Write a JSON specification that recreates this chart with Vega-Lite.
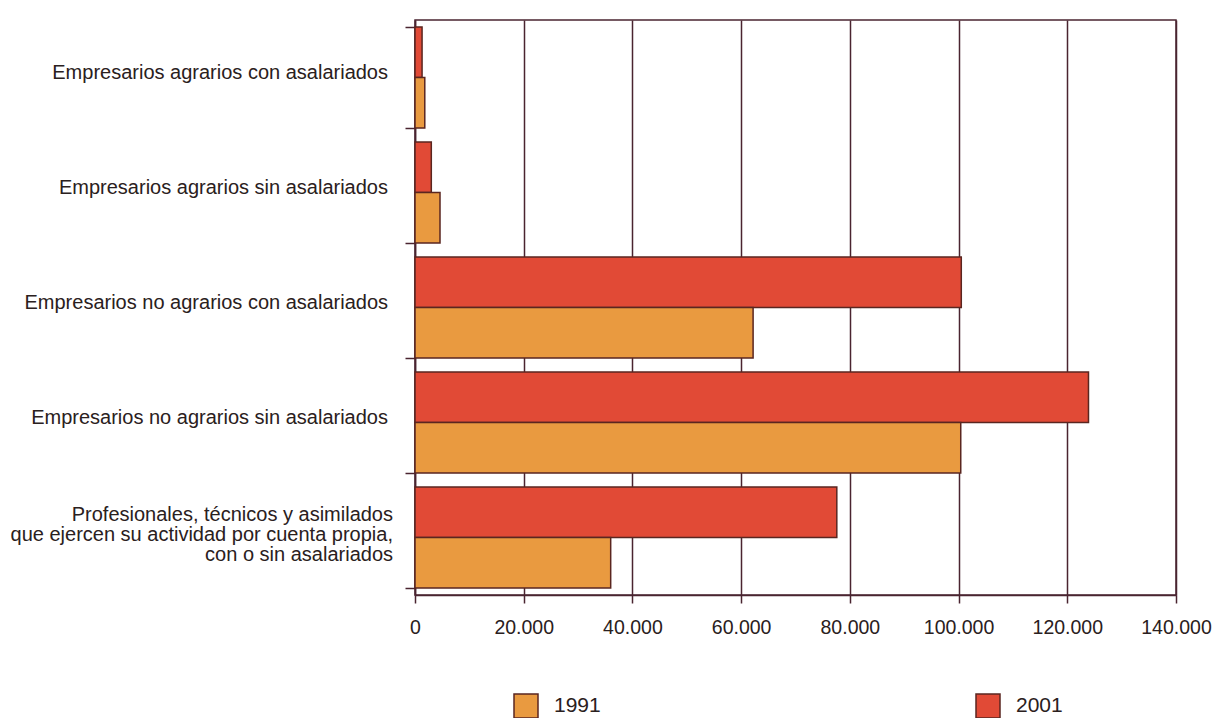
{
  "$schema": "https://vega.github.io/schema/vega-lite/v6.json",
  "width": 761,
  "height": 575,
  "autosize": {"type": "none"},
  "padding": {"left": 415, "top": 20, "right": 38, "bottom": 123},
  "background": "#ffffff",
  "data": {
    "values": [
      {"categoria": "Empresarios agrarios con asalariados", "anio": "2001", "valor": 1300},
      {"categoria": "Empresarios agrarios con asalariados", "anio": "1991", "valor": 1800},
      {"categoria": "Empresarios agrarios sin asalariados", "anio": "2001", "valor": 3000},
      {"categoria": "Empresarios agrarios sin asalariados", "anio": "1991", "valor": 4600},
      {"categoria": "Empresarios no agrarios con asalariados", "anio": "2001", "valor": 100500},
      {"categoria": "Empresarios no agrarios con asalariados", "anio": "1991", "valor": 62200},
      {"categoria": "Empresarios no agrarios sin asalariados", "anio": "2001", "valor": 123900},
      {"categoria": "Empresarios no agrarios sin asalariados", "anio": "1991", "valor": 100400},
      {"categoria": "Profesionales, técnicos y asimilados|que ejercen su actividad por cuenta propia,|con o sin asalariados", "anio": "2001", "valor": 77600},
      {"categoria": "Profesionales, técnicos y asimilados|que ejercen su actividad por cuenta propia,|con o sin asalariados", "anio": "1991", "valor": 36000}
    ]
  },
  "layer": [
    {
      "mark": {"type": "bar", "stroke": "#5a2620", "strokeWidth": 1.5},
      "encoding": {
        "y": {
          "field": "categoria",
          "type": "nominal",
          "sort": null,
          "scale": {"paddingInner": 0.12, "paddingOuter": 0.06},
          "axis": {
            "title": null,
            "labels": false,
            "tickBand": "extent",
            "tickSize": 10,
            "tickColor": "#4a2430",
            "tickWidth": 1.5,
            "domainColor": "#4a2430",
            "domainWidth": 1.5
          }
        },
        "yOffset": {
          "field": "anio",
          "type": "nominal",
          "sort": ["2001", "1991"],
          "scale": {"paddingInner": 0, "paddingOuter": 0}
        },
        "x": {
          "field": "valor",
          "type": "quantitative",
          "scale": {"domain": [0, 140000], "nice": false},
          "axis": {
            "title": null,
            "values": [0, 20000, 40000, 60000, 80000, 100000, 120000, 140000],
            "labelExpr": "replace(format(datum.value, ','), ',', '.')",
            "labelFlush": false,
            "labelOverlap": false,
            "grid": true,
            "gridColor": "#4a2430",
            "gridWidth": 1.5,
            "gridOpacity": 1,
            "tickSize": 8,
            "tickColor": "#4a2430",
            "tickWidth": 1.5,
            "domainColor": "#4a2430",
            "domainWidth": 1.5,
            "labelFont": "Liberation Sans",
            "labelFontSize": 19.5,
            "labelColor": "#2a2020",
            "labelPadding": 15
          }
        },
        "color": {
          "field": "anio",
          "type": "nominal",
          "scale": {"domain": ["1991", "2001"], "range": ["#e99a40", "#e14a36"]},
          "legend": {
            "title": null,
            "orient": "none",
            "legendX": 98,
            "legendY": 673,
            "direction": "horizontal",
            "columns": 2,
            "columnPadding": 372,
            "padding": 0,
            "symbolType": "square",
            "symbolSize": 576,
            "symbolStrokeColor": "#5a2620",
            "symbolStrokeWidth": 1.5,
            "symbolOpacity": 1,
            "labelFont": "Liberation Sans",
            "labelFontSize": 21,
            "labelColor": "#2a2020",
            "labelOffset": 15
          }
        }
      }
    },
    {
      "transform": [{"filter": "indexof(datum.categoria, '|') < 0 && datum.anio == '2001'"}],
      "mark": {
        "type": "text",
        "align": "right",
        "baseline": "middle",
        "dx": -27,
        "dy": -5,
        "font": "Liberation Sans",
        "fontSize": 20,
        "color": "#2a2020"
      },
      "encoding": {
        "y": {"field": "categoria", "type": "nominal", "sort": null},
        "x": {"datum": 0, "type": "quantitative"},
        "text": {"field": "categoria"}
      }
    },
    {
      "transform": [{"filter": "indexof(datum.categoria, '|') >= 0 && datum.anio == '2001'"}],
      "mark": {
        "type": "text",
        "align": "right",
        "baseline": "middle",
        "dx": -22,
        "dy": -23,
        "lineBreak": "|",
        "lineHeight": 20,
        "font": "Liberation Sans",
        "fontSize": 20,
        "color": "#2a2020"
      },
      "encoding": {
        "y": {"field": "categoria", "type": "nominal", "sort": null},
        "x": {"datum": 0, "type": "quantitative"},
        "text": {"field": "categoria"}
      }
    }
  ],
  "config": {
    "view": {"stroke": "#4a2430", "strokeWidth": 1.5}
  }
}
